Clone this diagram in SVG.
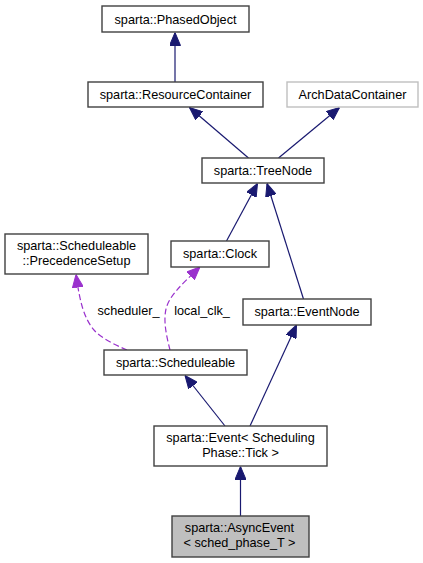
<svg xmlns="http://www.w3.org/2000/svg" width="423" height="563" viewBox="0 0 423 563">
<style>
  .box { fill: #ffffff; stroke: #404040; stroke-width: 1.4; }
  .ext { fill: #ffffff; stroke: #bfbfbf; stroke-width: 1.4; }
  .cur { fill: #bfbfbf; stroke: #404040; stroke-width: 1.4; }
  text { font-family: "Liberation Sans", Arial, sans-serif; font-size: 12.7px; fill: #000000; text-anchor: middle; }
  .inh { fill: none; stroke: #191970; stroke-width: 1.2; }
  .use { fill: none; stroke: #9a32cd; stroke-width: 1.2; stroke-dasharray: 6,3; }
</style>
<defs>
  <marker id="ah" viewBox="0 0 13 11" refX="13" refY="5.5" markerWidth="13" markerHeight="11" markerUnits="userSpaceOnUse" orient="auto">
    <path d="M0,0 L13,5.5 L0,11 z" fill="#191970" stroke="#191970" stroke-width="1"/>
  </marker>
  <marker id="ap" viewBox="0 0 13 11" refX="13" refY="5.5" markerWidth="13" markerHeight="11" markerUnits="userSpaceOnUse" orient="auto">
    <path d="M0,0 L13,5.5 L0,11 z" fill="#9a32cd" stroke="#9a32cd" stroke-width="1"/>
  </marker>
</defs>

<g id="edges">
  <path class="inh" d="M175,82 L175,32.5" marker-end="url(#ah)"/>
  <path class="inh" d="M248.5,158 L189.5,107.5" marker-end="url(#ah)"/>
  <path class="inh" d="M278.5,158 L339.5,107.5" marker-end="url(#ah)"/>
  <path class="inh" d="M226.5,241 L257.5,183.5" marker-end="url(#ah)"/>
  <path class="inh" d="M303.5,299 L267,183.5" marker-end="url(#ah)"/>
  <path class="inh" d="M225,426 L185,375.5" marker-end="url(#ah)"/>
  <path class="inh" d="M250,426 L296.5,325" marker-end="url(#ah)"/>
  <path class="inh" d="M240.5,516 L240.5,466.5" marker-end="url(#ah)"/>
  <path class="use" d="M170,350 C167,338 163,322 166,309 C169,296 182,284 200,267" marker-end="url(#ap)"/>
  <path class="use" d="M127,350 C115,345 101,338 94,330 C84,318 80,303 76,274.5" marker-end="url(#ap)"/>
  <text x="128.5" y="315">scheduler_</text>
  <text x="202" y="315">local_clk_</text>
</g>

<g id="PhasedObject">
  <rect class="box" x="102" y="6" width="147" height="26"/>
  <text x="175.5" y="23.5">sparta::PhasedObject</text>
</g>
<g id="ResourceContainer">
  <rect class="box" x="88" y="82" width="175" height="25"/>
  <text x="175.5" y="99">sparta::ResourceContainer</text>
</g>
<g id="ArchDataContainer">
  <rect class="ext" x="287" y="82" width="131" height="25"/>
  <text x="352.5" y="99">ArchDataContainer</text>
</g>
<g id="TreeNode">
  <rect class="box" x="202" y="158" width="122" height="25"/>
  <text x="263" y="175">sparta::TreeNode</text>
</g>
<g id="PrecedenceSetup">
  <rect class="box" x="5" y="234" width="143" height="40"/>
  <text x="76.5" y="250">sparta::Scheduleable</text>
  <text x="76.5" y="265">::PrecedenceSetup</text>
</g>
<g id="Clock">
  <rect class="box" x="171" y="241" width="98" height="26"/>
  <text x="220" y="257.5">sparta::Clock</text>
</g>
<g id="EventNode">
  <rect class="box" x="243" y="299" width="128" height="26"/>
  <text x="307" y="315.5">sparta::EventNode</text>
</g>
<g id="Scheduleable">
  <rect class="box" x="104" y="350" width="143" height="25"/>
  <text x="175.5" y="366.5">sparta::Scheduleable</text>
</g>
<g id="Event">
  <rect class="box" x="154" y="426" width="173" height="40"/>
  <text x="240.5" y="442">sparta::Event&lt; Scheduling</text>
  <text x="240.5" y="457">Phase::Tick &gt;</text>
</g>
<g id="AsyncEvent">
  <rect class="cur" x="172" y="516" width="137" height="41"/>
  <text x="239.5" y="532">sparta::AsyncEvent</text>
  <text x="239.5" y="547">&lt; sched_phase_T &gt;</text>
</g>
</svg>
